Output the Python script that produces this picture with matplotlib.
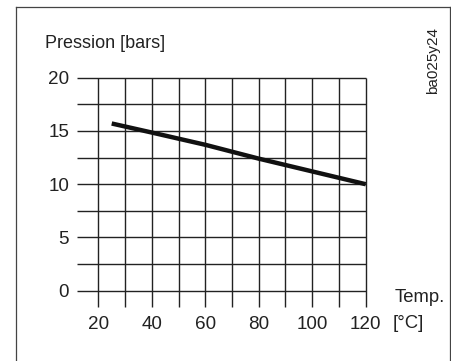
import matplotlib
matplotlib.use("Agg")
import matplotlib.pyplot as plt
from matplotlib.lines import Line2D

# Data
temp = [25, 40, 60, 80, 100, 120]
pressure = [15.7, 14.85, 13.7, 12.4, 11.2, 10.0]

x_ticks = [20, 40, 60, 80, 100, 120]
y_ticks = [0, 5, 10, 15, 20]
x_grid = [20, 30, 40, 50, 60, 70, 80, 90, 100, 110, 120]
y_grid = [0, 2.5, 5, 7.5, 10, 12.5, 15, 17.5, 20]

W, H = 452, 361
plt.rcParams["font.family"] = ["Liberation Sans", "DejaVu Sans"]

fig = plt.figure(figsize=(W / 100, H / 100), dpi=100)

def fx(px):
    return px / W

def fy(py):
    return 1 - py / H

# Axes placed on the grid area
ax = fig.add_axes([fx(76.7), fy(307), fx(365.7) - fx(76.7), fy(77.7) - fy(307)])
ax.set_xlim(11.9, 120)
ax.set_ylim(-1.53, 20)
for s in ax.spines.values():
    s.set_visible(False)

# Grid
ax.vlines(x_grid, -1.53, 20, color="#222222", lw=1.0, clip_on=False)
ax.hlines(y_grid, 11.9, 120, color="#222222", lw=1.0, clip_on=False)

# Curve
ax.plot(temp, pressure, color="#111111", lw=3.2, solid_capstyle="butt", clip_on=False)

# Tick labels
ax.set_xticks(x_ticks)
ax.set_xticklabels([str(t) for t in x_ticks])
ax.set_yticks(y_ticks)
ax.set_yticklabels([str(t) for t in y_ticks])
ax.tick_params(length=0, labelsize=13.6, colors="#222222")
ax.tick_params(axis="x", pad=6.5)
ax.tick_params(axis="y", pad=5.5)

# Labels
fig.text(fx(45.5), fy(43), "Pression [bars]", fontsize=13, color="#222222",
         ha="left", va="center")
fig.text(fx(395), fy(297), "Temp.", fontsize=13.3, color="#222222",
         ha="left", va="center")
fig.text(fx(393), fy(323), "[°C]", fontsize=13.3, color="#222222",
         ha="left", va="center")
fig.text(fx(433), fy(61), "ba025y24", fontsize=11, color="#222222",
         ha="center", va="center", rotation=90)

# Frame around the figure
frame_kw = dict(color="#444444", lw=0.9, transform=fig.transFigure)
fig.add_artist(Line2D([fx(16), fx(16)], [fy(7), -0.05], **frame_kw))
fig.add_artist(Line2D([fx(16), fx(450.5)], [fy(7), fy(7)], **frame_kw))
fig.add_artist(Line2D([fx(450.5), fx(450.5)], [fy(7), -0.05], **frame_kw))

fig.savefig("out.png", dpi=100)
